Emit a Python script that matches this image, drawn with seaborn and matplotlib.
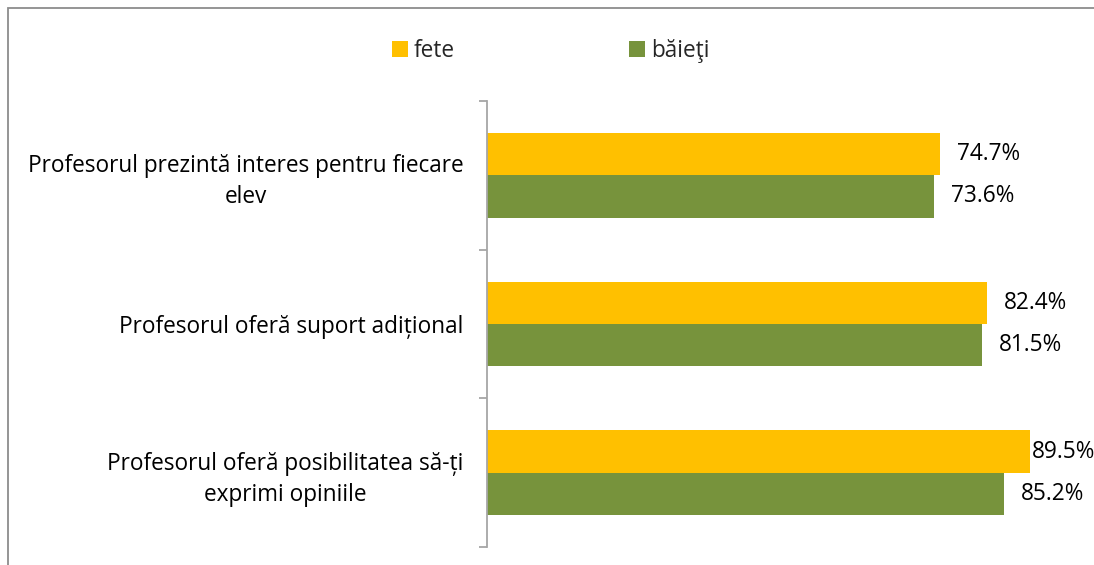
import matplotlib
matplotlib.use("Agg")
import matplotlib.pyplot as plt
import seaborn as sns
import pandas as pd
from matplotlib.patches import Patch, Rectangle

categories = [
    "Profesorul prezintă interes pentru fiecare\nelev",
    "Profesorul oferă suport adițional",
    "Profesorul oferă posibilitatea să-ți\nexprimi opiniile",
]
series = ["fete", "băieţi"]
fete = [74.7, 82.4, 89.5]
baieti = [73.6, 81.5, 85.2]
colors = ["#FFC000", "#77933C"]

df = pd.DataFrame({
    "cat": categories * 2,
    "grp": [series[0]] * 3 + [series[1]] * 3,
    "val": fete + baieti,
})

sns.set_theme(style="white")
plt.rcParams["font.family"] = ["Open Sans", "DejaVu Sans"]
fs = 16.3

W, H = 1094, 565
fig = plt.figure(figsize=(W / 100, H / 100), dpi=100)
ax = fig.add_axes([487 / W, 1 - 547 / H, (1094 - 487) / W, (547 - 101) / H])

sns.barplot(data=df, y="cat", x="val", hue="grp", order=categories,
            hue_order=series, palette=colors, width=0.568, saturation=1,
            orient="h", ax=ax, legend=False, linewidth=0)

ax.set_xlim(0, 100)
ax.set_ylim(2.5, -0.5)
ax.set_xlabel("")
ax.set_ylabel("")
ax.set_xticks([])
for s in ["top", "right", "bottom"]:
    ax.spines[s].set_visible(False)
ax.spines["left"].set_color("#A6A6A6")
ax.spines["left"].set_linewidth(1.3)
ax.set_yticks(range(len(categories)))
ax.set_yticklabels(categories, fontsize=fs, color="black")
ax.tick_params(axis="y", which="major", length=0, pad=17)
ax.set_yticks([-0.5, 0.5, 1.5, 2.5], minor=True)
ax.tick_params(axis="y", which="minor", length=6, width=1.3, color="#A6A6A6", left=True)
for lab in ax.get_yticklabels():
    lab.set_multialignment("center")
    lab.set_linespacing(1.38)

# value labels
for container, vals in zip(ax.containers, [fete, baieti]):
    for bar, v in zip(container, vals):
        y = bar.get_y() + bar.get_height() / 2
        pad = 17
        if v > 88:
            pad = 2
        ax.annotate(f"{v:.1f}%", (bar.get_width(), y), xytext=(pad, 0),
                    textcoords="offset pixels", va="center", ha="left",
                    fontsize=fs, color="black", annotation_clip=False)

# legend
handles = [Patch(facecolor=c, edgecolor="none") for c in colors]
fig.legend(handles, series, loc="center", bbox_to_anchor=(551 / W, 1 - 51 / H),
           ncol=2, frameon=False, fontsize=fs, handlelength=0.68, handleheight=0.68,
           handletextpad=0.28, columnspacing=7.7)

# outer border (top and left visible)
fig.patches.append(Rectangle((8 / W, -0.1), 1.2, 1 - 8 / H + 0.1,
                             transform=fig.transFigure, fill=False,
                             edgecolor="#8C8C8C", linewidth=1.3))

fig.savefig("out.png", dpi=100)
